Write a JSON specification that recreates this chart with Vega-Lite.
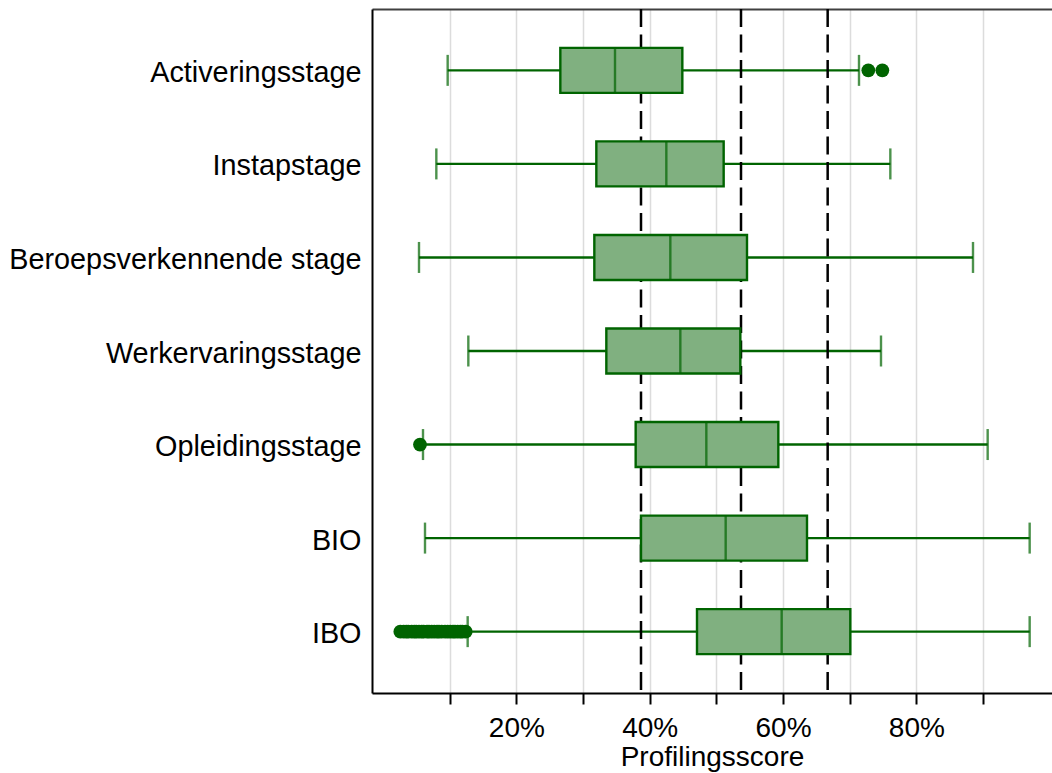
{
  "$schema": "https://vega.github.io/schema/vega-lite/v6.json",
  "width": 680,
  "height": 684,
  "autosize": {"type": "none"},
  "padding": {"left": 372, "top": 9, "right": 0, "bottom": 80},
  "background": "white",
  "config": {"view": {"stroke": null}, "font": "Liberation Sans"},
  "datasets": {
    "boxes": [
      {"cat": "Activeringsstage", "lo": 0.097, "q1": 0.266, "med": 0.348, "q3": 0.449, "hi": 0.714},
      {"cat": "Instapstage", "lo": 0.080, "q1": 0.320, "med": 0.425, "q3": 0.511, "hi": 0.761},
      {"cat": "Beroepsverkennende stage", "lo": 0.054, "q1": 0.317, "med": 0.431, "q3": 0.546, "hi": 0.885},
      {"cat": "Werkervaringsstage", "lo": 0.128, "q1": 0.335, "med": 0.446, "q3": 0.536, "hi": 0.747},
      {"cat": "Opleidingsstage", "lo": 0.060, "q1": 0.379, "med": 0.485, "q3": 0.593, "hi": 0.907},
      {"cat": "BIO", "lo": 0.063, "q1": 0.387, "med": 0.514, "q3": 0.636, "hi": 0.970},
      {"cat": "IBO", "lo": 0.127, "q1": 0.471, "med": 0.598, "q3": 0.701, "hi": 0.970}
    ],
    "outliers": [
      {"cat": "Activeringsstage", "v": 0.728},
      {"cat": "Activeringsstage", "v": 0.749},
      {"cat": "Opleidingsstage", "v": 0.0555},
      {"cat": "IBO", "v": 0.026},
      {"cat": "IBO", "v": 0.031},
      {"cat": "IBO", "v": 0.035},
      {"cat": "IBO", "v": 0.038},
      {"cat": "IBO", "v": 0.043},
      {"cat": "IBO", "v": 0.047},
      {"cat": "IBO", "v": 0.050},
      {"cat": "IBO", "v": 0.054},
      {"cat": "IBO", "v": 0.058},
      {"cat": "IBO", "v": 0.061},
      {"cat": "IBO", "v": 0.066},
      {"cat": "IBO", "v": 0.069},
      {"cat": "IBO", "v": 0.073},
      {"cat": "IBO", "v": 0.077},
      {"cat": "IBO", "v": 0.081},
      {"cat": "IBO", "v": 0.084},
      {"cat": "IBO", "v": 0.088},
      {"cat": "IBO", "v": 0.093},
      {"cat": "IBO", "v": 0.097},
      {"cat": "IBO", "v": 0.101},
      {"cat": "IBO", "v": 0.105},
      {"cat": "IBO", "v": 0.108},
      {"cat": "IBO", "v": 0.112},
      {"cat": "IBO", "v": 0.116},
      {"cat": "IBO", "v": 0.119},
      {"cat": "IBO", "v": 0.124}
    ],
    "refs": [{"v": 0.387}, {"v": 0.537}, {"v": 0.667}]
  },
  "layer": [
    {
      "data": {"name": "boxes"},
      "mark": {"type": "rule", "color": "#006400", "strokeWidth": 2.4},
      "encoding": {
        "y": {"field": "cat", "type": "nominal",
              "scale": {"type": "point", "padding": 0.656, "domain": ["Activeringsstage", "Instapstage", "Beroepsverkennende stage", "Werkervaringsstage", "Opleidingsstage", "BIO", "IBO"]},
              "axis": {"title": null, "ticks": false, "labelPadding": 11, "labelOffset": 2, "labelFontSize": 28.8, "labelColor": "black", "domainColor": "black", "domainWidth": 2, "grid": false, "labelLimit": 500}},
        "x": {"field": "lo", "type": "quantitative",
              "scale": {"domain": [-0.0165, 1.0035], "nice": false, "zero": false},
              "axis": {"orient": "bottom", "values": [0.1, 0.2, 0.3, 0.4, 0.5, 0.6, 0.7, 0.8, 0.9],
                       "labelExpr": "round(datum.value*10) % 2 == 0 ? format(datum.value, '.0%') : ''",
                       "grid": true, "gridColor": "#dcdcdc", "gridWidth": 1.5,
                       "tickSize": 11, "tickWidth": 2, "tickColor": "black",
                       "domainColor": "black", "domainWidth": 2,
                       "labelFontSize": 28, "labelColor": "black", "labelPadding": 10,
                       "title": "Profilingsscore", "titleFontSize": 28, "titleFontWeight": "normal", "titleColor": "black", "titlePadding": 1}},
        "x2": {"field": "hi"}
      }
    },
    {
      "data": {"name": "refs"},
      "mark": {"type": "rule", "color": "black", "strokeWidth": 2.5, "strokeDash": [18, 7.5]},
      "encoding": {
        "x": {"field": "v", "type": "quantitative",
              "axis": {"orient": "top", "labels": false, "ticks": false, "grid": false, "title": null, "domain": true, "domainColor": "#404040", "domainWidth": 2}}
      }
    },
    {
      "data": {"name": "boxes"},
      "mark": {"type": "tick", "color": "#006400", "size": 31, "thickness": 2.4},
      "encoding": {
        "y": {"field": "cat", "type": "nominal"},
        "x": {"field": "lo", "type": "quantitative", "axis": null}
      }
    },
    {
      "data": {"name": "boxes"},
      "mark": {"type": "tick", "color": "#006400", "size": 31, "thickness": 2.4},
      "encoding": {
        "y": {"field": "cat", "type": "nominal"},
        "x": {"field": "hi", "type": "quantitative", "axis": null}
      }
    },
    {
      "data": {"name": "boxes"},
      "mark": {"type": "bar", "fill": "#80b080", "stroke": "#006400", "strokeWidth": 2.4, "size": 45},
      "encoding": {
        "y": {"field": "cat", "type": "nominal"},
        "x": {"field": "q1", "type": "quantitative", "axis": null},
        "x2": {"field": "q3"}
      }
    },
    {
      "data": {"name": "boxes"},
      "mark": {"type": "tick", "color": "#006400", "size": 45, "thickness": 2.4},
      "encoding": {
        "y": {"field": "cat", "type": "nominal"},
        "x": {"field": "med", "type": "quantitative", "axis": null}
      }
    },
    {
      "data": {"name": "outliers"},
      "mark": {"type": "point", "filled": true, "color": "#006400", "size": 190, "opacity": 1},
      "encoding": {
        "y": {"field": "cat", "type": "nominal"},
        "x": {"field": "v", "type": "quantitative", "axis": null}
      }
    }
  ],
  "resolve": {"axis": {"x": "independent"}}
}
